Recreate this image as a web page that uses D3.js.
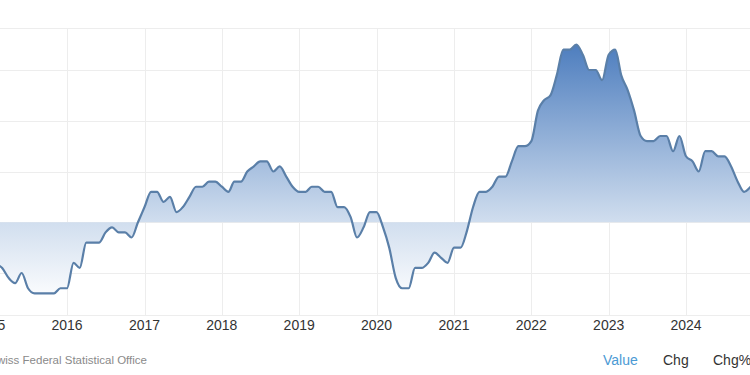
<!DOCTYPE html>
<html>
  <head>
    <meta charset="utf-8">
    <script src="https://cdn.jsdelivr.net/npm/d3@7"></script>
    <style>
      body { margin: 0; background: #fff; }
      svg { display: block; font-family: "Liberation Sans", Arial, sans-serif; }
    </style>
  </head>
<body>
  <script type="text/javascript">
    // monthly yoy inflation (Jan..Dec of each year)
    var y2015 = [-0.5, -0.8, -0.9, -1.1, -1.2, -1.0, -1.3, -1.4, -1.4, -1.4, -1.4, -1.3];
    var y2016 = [-1.3, -0.8, -0.9, -0.4, -0.4, -0.4, -0.2, -0.1, -0.2, -0.2, -0.3, 0.0];
    var y2017 = [0.3, 0.6, 0.6, 0.4, 0.5, 0.2, 0.3, 0.5, 0.7, 0.7, 0.8, 0.8];
    var y2018 = [0.7, 0.6, 0.8, 0.8, 1.0, 1.1, 1.2, 1.2, 1.0, 1.1, 0.9, 0.7];
    var y2019 = [0.6, 0.6, 0.7, 0.7, 0.6, 0.6, 0.3, 0.3, 0.1, -0.3, -0.1, 0.2];
    var y2020 = [0.2, -0.1, -0.5, -1.1, -1.3, -1.3, -0.9, -0.9, -0.8, -0.6, -0.7, -0.8];
    var y2021 = [-0.5, -0.5, -0.2, 0.3, 0.6, 0.6, 0.7, 0.9, 0.9, 1.2, 1.5, 1.5];
    var y2022 = [1.6, 2.2, 2.4, 2.5, 2.9, 3.4, 3.4, 3.5, 3.3, 3.0, 3.0, 2.8];
    var y2023 = [3.3, 3.4, 2.9, 2.6, 2.2, 1.7, 1.6, 1.6, 1.7, 1.7, 1.4, 1.7];
    var y2024 = [1.3, 1.2, 1.0, 1.4, 1.4, 1.3, 1.3, 1.1, 0.8, 0.6, 0.7];

    var yearTicks = [2015, 2016, 2017, 2018, 2019, 2020, 2021, 2022, 2023, 2024];
    var valueTicks = [-1, 0, 1, 2, 3];
    var sourceText = "Source: Swiss Federal Statistical Office";
    var tabLabels = ["Value", "Chg", "Chg%"];

    "use strict";
    var width = 750,
        height = 375,
        plotTop = 28,
        plotBottom = 315;

    var byYear = [y2015, y2016, y2017, y2018, y2019, y2020, y2021, y2022, y2023, y2024];
    var data = [];
    byYear.forEach(function (vals, i) {
      vals.forEach(function (v, m) {
        data.push({ date: new Date(2015 + i, m, 1), value: v });
      });
    });

    var svg = d3.select("body")
        .append("svg")
          .attr("width", width)
          .attr("height", height);

    var x = d3.scaleTime()
        .domain([new Date(2016, 0, 1), new Date(2024, 0, 1)])
        .range([67, 686]);

    var y = d3.scaleLinear()
        .domain([-1, 3])
        .range([273, 70]);

    // gradient for the area
    var grad = svg.append("defs").append("linearGradient")
        .attr("id", "fillGrad")
        .attr("gradientUnits", "userSpaceOnUse")
        .attr("x1", 0).attr("x2", 0)
        .attr("y1", y(3.6)).attr("y2", y(-1.6));
    grad.append("stop").attr("offset", 0).attr("stop-color", "#4a7bbd");
    grad.append("stop").attr("offset", 0.7).attr("stop-color", "#d2dfef");
    grad.append("stop").attr("offset", 1).attr("stop-color", "#ffffff");

    // grid
    var grid = svg.append("g").attr("class", "grid");
    grid.selectAll("line.h")
        .data(valueTicks.map(y).concat([plotTop, plotBottom]))
        .enter().append("line")
          .attr("x1", 0).attr("x2", width)
          .attr("y1", function (d) { return Math.round(d) + 0.5; })
          .attr("y2", function (d) { return Math.round(d) + 0.5; })
          .attr("stroke", "#ededed");
    grid.selectAll("line.v")
        .data(yearTicks)
        .enter().append("line")
          .attr("x1", function (d) { return Math.round(x(new Date(d, 0, 1))) + 0.5; })
          .attr("x2", function (d) { return Math.round(x(new Date(d, 0, 1))) + 0.5; })
          .attr("y1", plotTop).attr("y2", plotBottom)
          .attr("stroke", "#ededed");

    // area to zero + line
    var area = d3.area()
        .x(function (d) { return x(d.date); })
        .y0(y(0))
        .y1(function (d) { return y(d.value); })
        .curve(d3.curveMonotoneX);

    var line = d3.line()
        .x(function (d) { return x(d.date); })
        .y(function (d) { return y(d.value); })
        .curve(d3.curveMonotoneX);

    svg.append("path")
        .datum(data)
        .attr("d", area)
        .attr("fill", "url(#fillGrad)");

    svg.append("path")
        .datum(data)
        .attr("d", line)
        .attr("fill", "none")
        .attr("stroke", "#5a7fa8")
        .attr("stroke-width", 2.2)
        .attr("stroke-linejoin", "round");

    // x axis labels
    svg.selectAll("text.year")
        .data(yearTicks)
        .enter().append("text")
          .attr("class", "year")
          .attr("x", function (d) { return x(new Date(d, 0, 1)); })
          .attr("y", 330)
          .attr("text-anchor", "middle")
          .style("font-size", "14px")
          .style("fill", "#333")
          .text(function (d) { return d; });

    // footer
    svg.append("text")
        .attr("x", 147)
        .attr("y", 364)
        .attr("text-anchor", "end")
        .style("font-size", "11.5px")
        .style("fill", "#8a8a8a")
        .text(sourceText);

    var tabX = [603, 663, 713];
    svg.selectAll("text.tab")
        .data(tabLabels)
        .enter().append("text")
          .attr("class", "tab")
          .attr("x", function (d, i) { return tabX[i]; })
          .attr("y", 365)
          .style("font-size", "14px")
          .style("fill", function (d, i) { return i === 0 ? "#4b9ad4" : "#333"; })
          .text(function (d) { return d; });
  </script>
</body>
</html>
